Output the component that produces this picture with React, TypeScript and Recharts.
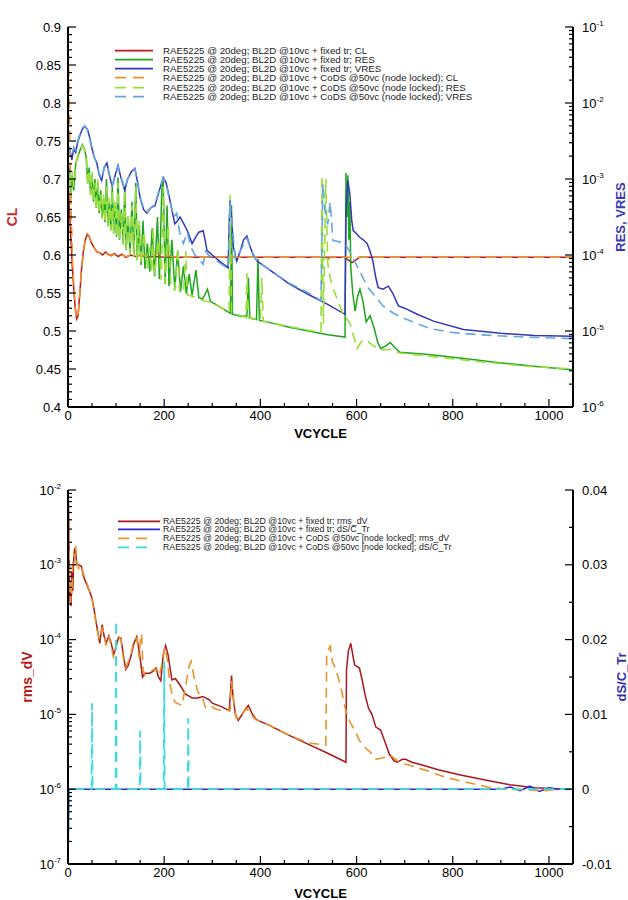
import { ComposedChart, Line, XAxis, YAxis, Label } from "recharts";

const FONT = '"Liberation Sans", Arial, Helvetica, sans-serif';

// top chart: CL (linear, left) and RES / VRES stored as log10 (right)
const clFixed: [number, number][] = [
  [0, 0.7], [3, 0.66], [6, 0.62], [9, 0.585], [12, 0.555], [15, 0.53], [18, 0.516], [21, 0.52],
  [24, 0.545], [28, 0.58], [32, 0.605], [36, 0.62], [40, 0.627], [44, 0.624], [48, 0.617], [54, 0.61],
  [60, 0.604], [66, 0.603], [72, 0.6], [78, 0.604], [84, 0.601], [90, 0.599], [96, 0.602], [104, 0.598],
  [112, 0.601], [120, 0.597], [130, 0.6], [140, 0.598], [150, 0.6], [165, 0.597], [180, 0.598], [200, 0.597],
  [575, 0.597], [582, 0.594], [590, 0.59], [598, 0.593], [606, 0.597], [1050, 0.597],
];
const clCods: [number, number][] = [
  [0, 0.89], [2, 0.82], [4, 0.74], [6, 0.67], [9, 0.6], [12, 0.56], [15, 0.53], [18, 0.517], [21, 0.52],
  [24, 0.545], [28, 0.58], [32, 0.605], [36, 0.62], [40, 0.628], [44, 0.625], [48, 0.618], [54, 0.61],
  [60, 0.605], [66, 0.602], [72, 0.601], [78, 0.603], [84, 0.6], [90, 0.6], [96, 0.601], [104, 0.598],
  [112, 0.6], [120, 0.598], [130, 0.599], [150, 0.599], [200, 0.602], [215, 0.598], [230, 0.597],
  [530, 0.597], [540, 0.594], [548, 0.598], [555, 0.597], [1050, 0.597],
];
const resFixed: [number, number][] = [
  [0, -3.1], [3, -2.85], [6, -3.25], [9, -2.95], [12, -3.15], [16, -2.8], [20, -2.72], [25, -2.62],
  [30, -2.55], [34, -2.6], [38, -2.72], [41, -3.05], [44, -2.85], [47, -3.2], [50, -2.95], [53, -3.3],
  [56, -3.0], [59, -3.38], [62, -3.05], [65, -3.45], [68, -3.15], [71, -3.52], [74, -3.25], [77, -3.57],
  [80, -3.0], [83, -3.62], [86, -3.3], [89, -3.67], [92, -3.1], [95, -3.71], [98, -3.35], [101, -3.76],
  [104, -2.98], [107, -3.8], [111, -3.4], [115, -3.86], [118, -3.1], [121, -3.93], [125, -3.5], [129, -3.98],
  [133, -3.3], [137, -4.03], [141, -3.05], [144, -4.07], [148, -3.6], [152, -4.13], [156, -3.55], [160, -4.18],
  [165, -3.85], [170, -4.22], [175, -3.65], [180, -4.28], [186, -3.5], [190, -4.32], [195, -3.15], [198, -3.02],
  [202, -4.38], [206, -3.35], [210, -4.41], [216, -3.8], [222, -4.45], [228, -3.95], [234, -4.48], [240, -4.15],
  [246, -4.51], [252, -4.25], [258, -4.53], [266, -4.2], [272, -4.56], [280, -4.58], [290, -4.45], [296, -4.61],
  [310, -4.66], [325, -4.72], [338, -4.77], [340, -3.35], [342, -4.78], [360, -4.81], [372, -4.8], [375, -4.3],
  [378, -4.83], [392, -4.85], [395, -4.05], [398, -4.86], [420, -4.89], [460, -4.95], [500, -5.0], [540, -5.05],
  [576, -5.08], [578, -2.92], [580, -3.5], [582, -2.95], [584, -3.8], [586, -3.3], [588, -4.17], [592, -4.5],
  [597, -4.74], [602, -4.55], [607, -4.45], [613, -4.6], [620, -4.88], [628, -4.8], [636, -4.95], [644, -5.15],
  [650, -5.23], [660, -5.2], [670, -5.15], [680, -5.22], [690, -5.28], [750, -5.31], [820, -5.36], [900, -5.42],
  [980, -5.47], [1048, -5.51],
];
const resCods: [number, number][] = [
  [0, -3.05], [3, -2.9], [6, -3.2], [9, -2.9], [12, -3.1], [16, -2.82], [20, -2.7], [25, -2.62], [30, -2.56],
  [34, -2.6], [38, -2.7], [41, -3.1], [44, -2.88], [47, -3.22], [50, -2.9], [53, -3.3], [56, -3.05], [59, -3.4],
  [62, -3.0], [65, -3.45], [68, -3.2], [71, -3.52], [74, -3.2], [77, -3.58], [80, -3.1], [83, -3.62], [86, -3.25],
  [89, -3.68], [92, -3.15], [95, -3.72], [98, -3.3], [101, -3.77], [104, -3.05], [107, -3.81], [111, -3.45],
  [115, -3.86], [118, -3.15], [121, -3.92], [125, -3.45], [129, -3.98], [133, -3.35], [137, -4.03], [141, -3.1],
  [144, -4.07], [148, -3.55], [152, -4.12], [158, -3.7], [164, -4.18], [170, -3.9], [174, -4.22], [177, -3.64],
  [180, -4.26], [188, -3.8], [194, -4.33], [198, -3.1], [202, -4.37], [208, -3.6], [214, -4.43], [222, -4.46],
  [229, -3.9], [232, -4.48], [240, -4.5], [245, -3.95], [248, -4.52], [260, -4.55], [272, -4.57], [281, -4.6],
  [300, -4.63], [320, -4.7], [335, -4.75], [337, -3.21], [340, -4.76], [360, -4.8], [370, -4.82], [372, -4.24],
  [374, -4.82], [400, -4.86], [403, -4.3], [406, -4.87], [450, -4.93], [500, -4.99], [526, -5.02], [528, -2.95],
  [531, -4.9], [536, -3.0], [540, -4.1], [545, -4.3], [552, -4.45], [559, -4.57], [570, -4.75], [587, -4.91],
  [601, -5.23], [612, -5.12], [624, -5.14], [636, -5.2], [650, -5.25], [670, -5.24], [690, -5.29], [750, -5.33],
  [850, -5.4], [950, -5.46], [1048, -5.5],
];
const vresFixed: [number, number][] = [
  [0, -2.58], [4, -2.62], [8, -2.75], [12, -2.6], [16, -2.65], [20, -2.52], [25, -2.42], [30, -2.34], [35, -2.31],
  [40, -2.34], [45, -2.45], [50, -2.6], [55, -2.72], [60, -2.79], [65, -2.95], [70, -3.02], [75, -2.85], [81, -2.79],
  [86, -2.95], [92, -3.1], [98, -2.95], [104, -2.82], [110, -2.98], [118, -3.15], [124, -3.0], [132, -2.9],
  [139, -2.86], [145, -3.05], [150, -3.25], [157, -3.4], [164, -3.45], [172, -3.38], [181, -3.35], [190, -3.15],
  [198, -2.98], [204, -3.05], [212, -3.28], [222, -3.59], [228, -3.55], [233, -3.5], [240, -3.58], [248, -3.68],
  [254, -3.78], [258, -3.85], [265, -3.77], [272, -3.7], [281, -3.68], [285, -3.8], [289, -3.94], [300, -4.0],
  [315, -4.08], [333, -4.17], [335, -3.6], [337, -3.28], [340, -3.5], [344, -3.9], [351, -4.08], [358, -3.95],
  [365, -3.8], [372, -3.75], [378, -3.88], [385, -4.0], [393, -4.08], [420, -4.2], [460, -4.38], [500, -4.52],
  [540, -4.65], [576, -4.78], [578, -3.4], [582, -3.02], [586, -3.2], [590, -3.55], [593, -3.68], [600, -3.72],
  [607, -3.77], [614, -3.8], [622, -3.85], [628, -3.95], [634, -4.08], [640, -4.3], [645, -4.43], [655, -4.45],
  [666, -4.41], [675, -4.5], [687, -4.67], [700, -4.7], [726, -4.78], [760, -4.87], [822, -4.98], [900, -5.03],
  [970, -5.06], [1048, -5.07],
];
const vresCods: [number, number][] = [
  [0, -2.55], [4, -2.65], [8, -2.7], [12, -2.58], [16, -2.62], [20, -2.5], [25, -2.4], [30, -2.33], [35, -2.3],
  [40, -2.35], [45, -2.47], [50, -2.62], [55, -2.72], [60, -2.8], [65, -2.93], [70, -3.0], [75, -2.86], [81, -2.8],
  [86, -2.93], [92, -3.08], [98, -2.96], [104, -2.84], [110, -2.97], [118, -3.13], [124, -3.0], [132, -2.91],
  [139, -2.87], [145, -3.05], [150, -3.24], [157, -3.38], [164, -3.44], [172, -3.38], [181, -3.33], [190, -3.13],
  [198, -2.99], [204, -3.07], [212, -3.3], [220, -3.5], [226, -3.45], [232, -3.7], [240, -3.85], [248, -3.7],
  [256, -3.9], [264, -4.0], [272, -4.05], [281, -4.12], [286, -3.95], [292, -4.0], [310, -4.08], [333, -4.18],
  [337, -3.3], [341, -3.6], [348, -4.05], [358, -3.95], [372, -3.78], [380, -3.92], [393, -4.08], [420, -4.2],
  [460, -4.37], [500, -4.5], [526, -4.6], [530, -3.06], [534, -3.4], [540, -3.6], [545, -3.3], [551, -3.81],
  [560, -3.82], [576, -3.85], [590, -4.0], [605, -4.2], [624, -4.43], [640, -4.55], [655, -4.67], [675, -4.76],
  [697, -4.83], [725, -4.9], [753, -4.97], [800, -5.02], [857, -5.05], [950, -5.08], [1048, -5.1],
];

// bottom chart: rms_dV stored as log10 (left), dS/C_Tr linear (right)
const rmsFixed: [number, number][] = [
  [0, -2.0], [1, -2.2], [2, -2.7], [3, -3.2], [4, -3.5], [5, -3.3], [6, -3.55], [8, -3.1], [10, -3.35], [12, -2.9],
  [14, -2.78], [16, -2.82], [18, -3.0], [22, -3.0], [28, -3.02], [32, -3.15], [38, -3.25], [45, -3.36], [50, -3.45],
  [54, -3.59], [58, -3.75], [62, -3.9], [66, -4.05], [71, -3.8], [75, -3.95], [79, -4.05], [85, -3.95], [90, -4.05],
  [95, -4.2], [100, -4.1], [105, -3.97], [110, -3.98], [115, -4.2], [120, -4.4], [125, -4.35], [131, -4.22],
  [137, -4.05], [143, -3.96], [149, -4.2], [155, -4.5], [160, -4.45], [170, -4.45], [178, -4.42], [183, -4.38],
  [188, -4.5], [193, -4.55], [198, -4.2], [203, -4.08], [208, -4.2], [216, -4.54], [223, -4.52], [230, -4.58],
  [237, -4.65], [244, -4.73], [250, -4.75], [258, -4.78], [270, -4.78], [280, -4.76], [286, -4.78], [293, -4.8],
  [300, -4.85], [320, -4.9], [335, -4.95], [338, -4.7], [340, -4.48], [343, -4.75], [348, -5.0], [354, -5.08],
  [362, -5.0], [370, -4.92], [375, -4.88], [382, -4.98], [390, -5.06], [395, -5.08], [420, -5.15], [460, -5.28],
  [500, -5.4], [540, -5.52], [578, -5.64], [579, -4.41], [583, -4.15], [588, -4.05], [592, -4.2], [596, -4.34],
  [606, -4.38], [612, -4.55], [618, -4.75], [625, -4.92], [632, -5.0], [640, -5.17], [650, -5.21], [658, -5.35],
  [668, -5.53], [678, -5.62], [685, -5.64], [695, -5.6], [702, -5.6], [715, -5.64], [727, -5.66], [770, -5.74],
  [816, -5.81], [870, -5.88], [919, -5.94], [970, -5.98], [1033, -6.0], [1045, -6.0],
];
const rmsCods: [number, number][] = [
  [0, -1.95], [1, -2.3], [2, -2.8], [3, -3.0], [4, -3.3], [5, -3.5], [6, -3.2], [8, -3.4], [10, -3.0], [12, -2.85],
  [14, -2.9], [16, -2.75], [18, -2.95], [22, -3.05], [28, -3.0], [32, -3.12], [38, -3.22], [45, -3.35], [50, -3.47],
  [54, -3.6], [58, -3.78], [62, -3.92], [66, -4.0], [71, -3.85], [75, -3.92], [79, -4.08], [85, -3.95], [90, -4.1],
  [95, -4.25], [100, -4.05], [105, -3.95], [110, -4.0], [115, -4.25], [120, -4.38], [125, -4.3], [131, -4.2],
  [137, -4.0], [143, -3.98], [148, -4.25], [151, -3.95], [153, -3.92], [156, -4.4], [160, -4.48], [170, -4.44],
  [178, -4.4], [185, -4.4], [190, -4.48], [196, -4.3], [201, -4.1], [206, -4.25], [212, -4.6], [218, -4.78],
  [223, -4.84], [230, -4.86], [237, -4.88], [245, -4.6], [252, -4.35], [256, -4.29], [262, -4.5], [270, -4.7],
  [278, -4.75], [286, -4.91], [295, -4.88], [305, -4.92], [313, -4.94], [325, -4.94], [337, -4.95], [340, -4.55],
  [344, -4.8], [350, -5.05], [356, -5.06], [364, -4.98], [372, -4.92], [380, -5.0], [390, -5.07], [420, -5.15],
  [460, -5.28], [500, -5.38], [536, -5.41], [538, -4.18], [545, -4.09], [550, -4.3], [556, -4.38], [566, -4.6],
  [576, -4.91], [586, -5.1], [596, -5.21], [606, -5.35], [617, -5.44], [628, -5.5], [640, -5.6], [655, -5.58],
  [671, -5.55], [689, -5.64], [720, -5.7], [750, -5.76], [784, -5.84], [830, -5.91], [872, -5.97], [910, -6.0],
  [954, -6.01], [990, -6.02], [1025, -6.0], [1045, -6.0],
];
const dsFixed: [number, number][] = [
  [0, -0.01], [1, -0.004], [2, 0], [900, 0], [920, 0.0003], [940, -0.0002], [960, 0.0004], [980, -0.0003],
  [1000, 0.0002], [1020, 0], [1045, 0],
];
const dsCods: [number, number][] = [
  [0, -0.01], [1, -0.005], [2, 0], [49, 0], [50, 0.0115], [51, 0], [99, 0], [100, 0.0225], [101, 0], [149, 0],
  [150, 0.0078], [151, 0], [199, 0], [200, 0.0171], [201, 0], [249, 0], [250, 0.0095], [251, 0], [1045, 0],
];

const xMajor = [0, 200, 400, 600, 800, 1000];
const clMajor = [0.4, 0.45, 0.5, 0.55, 0.6, 0.65, 0.7, 0.75, 0.8, 0.85, 0.9];
const resDecades = [-6, -5, -4, -3, -2, -1];
const rmsDecades = [-7, -6, -5, -4, -3, -2];
const dsMajor = [-0.01, 0, 0.01, 0.02, 0.03, 0.04];

const topLegend = [
  { label: "RAE5225 @ 20deg; BL2D @10vc + fixed tr; CL", color: "#c0191d", dashed: false },
  { label: "RAE5225 @ 20deg; BL2D @10vc + fixed tr; RES", color: "#1fa51f", dashed: false },
  { label: "RAE5225 @ 20deg; BL2D @10vc + fixed tr; VRES", color: "#3636b8", dashed: false },
  { label: "RAE5225 @ 20deg; BL2D @10vc + CoDS @50vc (node locked); CL", color: "#e8922c", dashed: true },
  { label: "RAE5225 @ 20deg; BL2D @10vc + CoDS @50vc (node locked); RES", color: "#9bde3a", dashed: true },
  { label: "RAE5225 @ 20deg; BL2D @10vc + CoDS @50vc (node locked); VRES", color: "#62a8dc", dashed: true },
];
const bottomLegend = [
  { label: "RAE5225 @ 20deg; BL2D @10vc + fixed tr; rms_dV", color: "#a8181c", dashed: false },
  { label: "RAE5225 @ 20deg; BL2D @10vc + fixed tr; dS/C_Tr", color: "#2a2ad0", dashed: false },
  { label: "RAE5225 @ 20deg; BL2D @10vc + CoDS @50vc [node locked]; rms_dV", color: "#e8962c", dashed: true },
  { label: "RAE5225 @ 20deg; BL2D @10vc + CoDS @50vc [node locked]; dS/C_Tr", color: "#3ddcdc", dashed: true },
];

const pts = (a: [number, number][]) => a.map(([x, y]) => ({ x, y }));
const r4 = (v: number) => Math.round(v * 10000) / 10000;

const xTicks = Array.from({ length: 21 }, (_, i) => i * 50);
const clTicks = Array.from({ length: 51 }, (_, i) => r4(0.4 + i * 0.01));
const dsTicks = Array.from({ length: 11 }, (_, i) => r4(-0.01 + i * 0.005));
function logTicks(decades: number[]) {
  const out: number[] = [];
  decades.forEach((d, i) => {
    out.push(d);
    if (i < decades.length - 1) for (let k = 2; k < 10; k++) out.push(d + Math.log10(k));
  });
  return out;
}

const near = (a: number, b: number) => Math.abs(a - b) < 1e-6;
const isMajorOf = (list: number[]) => (v: number) => list.some((m) => near(m, v));

const fmtNum = (v: number) => String(v);
const fmtPow = (v: number) => (
  <>
    <tspan>10</tspan>
    <tspan dy={-6} fontSize={8}>{String(v)}</tspan>
  </>
);

const GAP = 7;
function makeTick(side: "left" | "right" | "bottom", isMajor: (v: number) => boolean, fmt: (v: number) => any) {
  return (p: any) => {
    const v = p.payload.value;
    const major = isMajor(v);
    const len = major ? 8 : 4;
    const common = { stroke: "#000", strokeWidth: 1.2 };
    if (side === "left") {
      const ax = p.x + GAP;
      return (
        <g>
          <line x1={ax} x2={ax + len} y1={p.y} y2={p.y} {...common} />
          {major && (
            <text x={p.x} y={p.y} dy={4.5} textAnchor="end" fontSize={13} fontFamily={FONT} fill="#000">
              {fmt(v)}
            </text>
          )}
        </g>
      );
    }
    if (side === "right") {
      const ax = p.x - GAP;
      return (
        <g>
          <line x1={ax} x2={ax - len} y1={p.y} y2={p.y} {...common} />
          {major && (
            <text x={p.x + 2} y={p.y} dy={4.5} textAnchor="start" fontSize={13} fontFamily={FONT} fill="#000">
              {fmt(v)}
            </text>
          )}
        </g>
      );
    }
    const ay = p.y - 4;
    return (
      <g>
        <line x1={p.x} x2={p.x} y1={ay} y2={ay - len} {...common} />
        {major && (
          <text x={p.x} y={ay} dy={13} textAnchor="middle" fontSize={13} fontFamily={FONT} fill="#000">
            {fmt(v)}
          </text>
        )}
      </g>
    );
  };
}

const axisLine = { stroke: "#000", strokeWidth: 2 };
const titleStyle = { fontFamily: FONT, fontWeight: 700, fontSize: 13, textAnchor: "middle" as const };

function LegendBox(props: {
  items: typeof topLegend;
  left: number;
  top: number;
  rowH: number;
  fontSize: number;
  swatch: number;
}) {
  const { items, left, top, rowH, fontSize, swatch } = props;
  return (
    <div style={{ position: "absolute", left, top, fontFamily: FONT, fontSize, color: "#222" }}>
      {items.map((it) => (
        <div key={it.label} style={{ display: "flex", alignItems: "center", height: rowH, whiteSpace: "nowrap" }}>
          <svg width={swatch} height={rowH} style={{ marginRight: 163 - left - swatch, flex: "none" }}>
            <line
              x1={0}
              x2={it.dashed ? 29 : swatch}
              y1={rowH / 2}
              y2={rowH / 2}
              stroke={it.color}
              strokeWidth={1.8}
              strokeDasharray={it.dashed ? "11 7" : undefined}
            />
          </svg>
          <span style={{ lineHeight: `${rowH}px` }}>{it.label}</span>
        </div>
      ))}
    </div>
  );
}

function TopChart() {
  return (
    <ComposedChart width={628} height={450} margin={{ top: 27, right: 0, bottom: 2, left: 0 }}>
      <XAxis
        type="number"
        dataKey="x"
        domain={[0, 1050]}
        ticks={xTicks}
        interval={0}
        allowDataOverflow
        height={41}
        tickSize={0}
        tickMargin={4}
        axisLine={axisLine}
        tickLine={false}
        tick={makeTick("bottom", isMajorOf(xMajor), fmtNum)}
      >
        <Label value="VCYCLE" position="insideBottom" offset={10} fill="#000" style={titleStyle} />
      </XAxis>
      <YAxis
        yAxisId="cl"
        orientation="left"
        width={68}
        type="number"
        domain={[0.4, 0.9]}
        ticks={clTicks}
        interval={0}
        allowDataOverflow
        tickSize={0}
        tickMargin={GAP}
        axisLine={axisLine}
        tickLine={false}
        tick={makeTick("left", isMajorOf(clMajor), fmtNum)}
      >
        <Label value="CL" angle={-90} position="insideLeft" offset={12} fill="#cc2b2b" style={{ ...titleStyle, fontSize: 14 }} />
      </YAxis>
      <YAxis
        yAxisId="res"
        orientation="right"
        width={55}
        type="number"
        domain={[-6, -1]}
        ticks={logTicks(resDecades)}
        interval={0}
        allowDataOverflow
        tickSize={0}
        tickMargin={GAP}
        axisLine={axisLine}
        tickLine={false}
        tick={makeTick("right", (v) => Number.isInteger(v), fmtPow)}
      >
        <Label value="RES, VRES" angle={-90} position="insideRight" offset={8} fill="#3a3ab0" style={{ ...titleStyle, fontSize: 13 }} />
      </YAxis>
      <Line yAxisId="cl" data={pts(clFixed)} dataKey="y" stroke="#c0191d" strokeWidth={1.5} dot={false} isAnimationActive={false} />
      <Line yAxisId="res" data={pts(resFixed)} dataKey="y" stroke="#1fa51f" strokeWidth={1.5} dot={false} isAnimationActive={false} />
      <Line yAxisId="res" data={pts(vresFixed)} dataKey="y" stroke="#3636b8" strokeWidth={1.5} dot={false} isAnimationActive={false} />
      <Line yAxisId="cl" data={pts(clCods)} dataKey="y" stroke="#e8922c" strokeWidth={1.6} strokeDasharray="10 6" dot={false} isAnimationActive={false} />
      <Line yAxisId="res" data={pts(resCods)} dataKey="y" stroke="#9bde3a" strokeWidth={1.6} strokeDasharray="10 6" dot={false} isAnimationActive={false} />
      <Line yAxisId="res" data={pts(vresCods)} dataKey="y" stroke="#62a8dc" strokeWidth={1.6} strokeDasharray="10 6" dot={false} isAnimationActive={false} />
    </ComposedChart>
  );
}

function BottomChart() {
  return (
    <ComposedChart width={628} height={450} margin={{ top: 40, right: 0, bottom: 0, left: 0 }}>
      <XAxis
        type="number"
        dataKey="x"
        domain={[0, 1050]}
        ticks={xTicks}
        interval={0}
        allowDataOverflow
        height={36}
        tickSize={0}
        tickMargin={4}
        axisLine={axisLine}
        tickLine={false}
        tick={makeTick("bottom", isMajorOf(xMajor), fmtNum)}
      >
        <Label value="VCYCLE" position="insideBottom" offset={2} fill="#000" style={titleStyle} />
      </XAxis>
      <YAxis
        yAxisId="rms"
        orientation="left"
        width={68}
        type="number"
        domain={[-7, -2]}
        ticks={logTicks(rmsDecades)}
        interval={0}
        allowDataOverflow
        tickSize={0}
        tickMargin={GAP}
        axisLine={axisLine}
        tickLine={false}
        tick={makeTick("left", (v) => Number.isInteger(v), fmtPow)}
      >
        <Label value="rms_dV" angle={-90} position="insideLeft" offset={27} fill="#b01c1c" style={{ ...titleStyle, fontSize: 14 }} />
      </YAxis>
      <YAxis
        yAxisId="ds"
        orientation="right"
        width={55}
        type="number"
        domain={[-0.01, 0.04]}
        ticks={dsTicks}
        interval={0}
        allowDataOverflow
        tickSize={0}
        tickMargin={GAP}
        axisLine={axisLine}
        tickLine={false}
        tick={makeTick("right", isMajorOf(dsMajor), fmtNum)}
      >
        <Label value="dS/C_Tr" angle={-90} position="insideRight" offset={7} fill="#3030a8" style={{ ...titleStyle, fontSize: 13 }} />
      </YAxis>
      <Line yAxisId="rms" data={pts(rmsFixed)} dataKey="y" stroke="#a8181c" strokeWidth={1.5} dot={false} isAnimationActive={false} />
      <Line yAxisId="ds" data={pts(dsFixed)} dataKey="y" stroke="#2a2ad0" strokeWidth={1.5} dot={false} isAnimationActive={false} />
      <Line yAxisId="rms" data={pts(rmsCods)} dataKey="y" stroke="#e8962c" strokeWidth={1.6} strokeDasharray="10 6" dot={false} isAnimationActive={false} />
      <Line yAxisId="ds" data={pts(dsCods)} dataKey="y" stroke="#3ddcdc" strokeWidth={1.8} strokeDasharray="10 6" dot={false} isAnimationActive={false} />
    </ComposedChart>
  );
}

export default function App() {
  return (
    <div style={{ position: "absolute", left: 0, top: 0, width: 628, height: 900, background: "#fff", overflow: "hidden" }}>
      <div style={{ position: "absolute", left: 0, top: 0 }}>
        <TopChart />
      </div>
      <div style={{ position: "absolute", left: 0, top: 450 }}>
        <BottomChart />
      </div>
      <LegendBox items={topLegend} left={115} top={45.5} rowH={9.3} fontSize={9.7} swatch={38} />
      <LegendBox items={bottomLegend} left={118} top={516.5} rowH={8.9} fontSize={8.8} swatch={42} />
    </div>
  );
}
